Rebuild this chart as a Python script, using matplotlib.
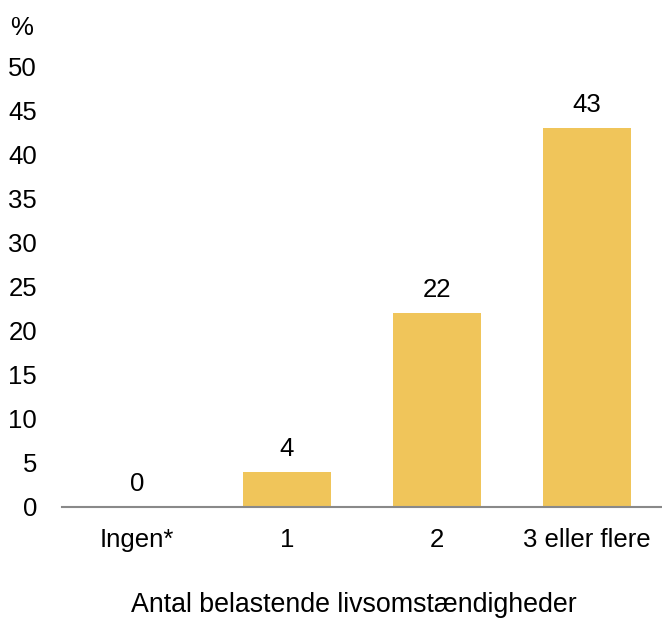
import matplotlib
matplotlib.use("Agg")
import matplotlib.pyplot as plt

categories = ["Ingen*", "1", "2", "3 eller flere"]
values = [0, 4, 22, 43]
yticks = [0, 5, 10, 15, 20, 25, 30, 35, 40, 45, 50]

plt.rcParams['font.family'] = ['Liberation Sans', 'DejaVu Sans']
FS = 18.5

W, H = 662, 619
fig = plt.figure(figsize=(W / 100, H / 100), dpi=100)
left, right = 62 / W, 662 / W
bottom, top = (H - 507) / H, (H - 66) / H
ax = fig.add_axes([left, bottom, right - left, top - bottom])

x = range(len(categories))
ax.bar(x, values, width=0.587, color="#F0C55A")
ax.set_xlim(-0.5, len(categories) - 0.5)
ax.set_ylim(0, 50)
ax.set_yticks(yticks)
ax.set_xticks(list(x))
ax.set_xticklabels(categories, fontsize=FS)
ax.tick_params(axis='y', length=0, labelsize=FS, pad=18)
ax.tick_params(axis='x', length=0, pad=15)
for s in ["top", "right", "left"]:
    ax.spines[s].set_visible(False)
ax.spines["bottom"].set_color("#898989")
ax.spines["bottom"].set_linewidth(1.5)

for xi, v in zip(x, values):
    ax.annotate(str(v), (xi, v), xytext=(0, 8), textcoords="offset points",
                ha="center", va="bottom", fontsize=FS)

fig.text(22 / W, 1 - 28 / H, "%", fontsize=FS, ha="center", va="center")
fig.text(354 / W, 1 - 605 / H, "Antal belastende livsomstændigheder", fontsize=19.3,
         ha="center", va="center")

fig.savefig("out.png", dpi=100)
